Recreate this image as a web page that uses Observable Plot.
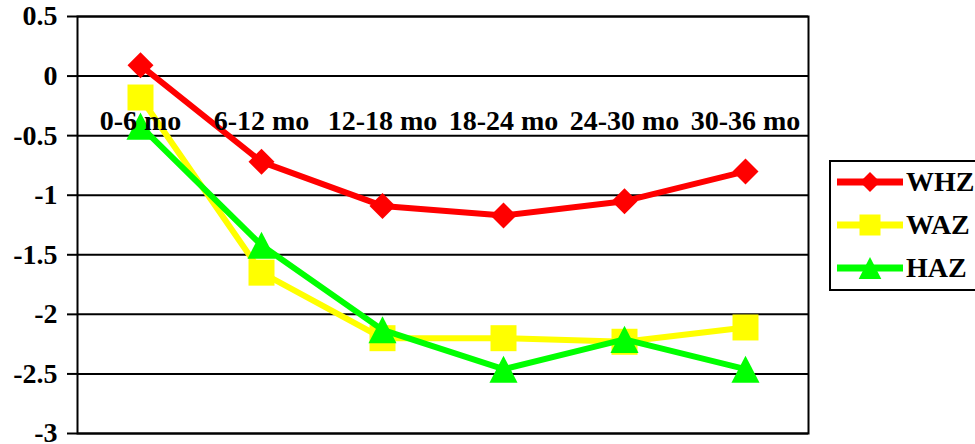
<!DOCTYPE html>
<html>
<head>
<meta charset="utf-8">
<script src="https://cdn.jsdelivr.net/npm/d3@7"></script>
<script src="https://cdn.jsdelivr.net/npm/@observablehq/plot@0.6"></script>
<style>
  html, body { margin: 0; padding: 0; background: white; overflow: hidden; }
  #wrap { position: relative; width: 975px; height: 444px; overflow: hidden; }
  #legend { position: absolute; left: 829px; top: 160px; width: 170px; height: 127px;
            border: 2px solid black; background: white; box-sizing: content-box; }
  .lg-row { position: absolute; left: 0; height: 40px; display: flex; align-items: center; }
  .lg-row span { font-family: "Liberation Serif", "Times New Roman", serif; font-weight: bold;
                 font-size: 28px; color: black; margin-left: 0px; }
</style>
</head>
<body>
<div id="wrap"><div id="chart"></div><div id="legend"></div></div>
<script>
const categories = ["0-6 mo", "6-12 mo", "12-18 mo", "18-24 mo", "24-30 mo", "30-36 mo"];
const seriesNames = ["WHZ", "WAZ", "HAZ"];
const WHZ = [0.09, -0.72, -1.09, -1.17, -1.05, -0.80];
const WAZ = [-0.18, -1.65, -2.20, -2.20, -2.23, -2.11];
const HAZ = [-0.42, -1.42, -2.13, -2.46, -2.21, -2.46];
const yTicks = [0.5, 0, -0.5, -1, -1.5, -2, -2.5, -3];
const colors = {WHZ: "#FF0000", WAZ: "#FFFF00", HAZ: "#00FF00"};
const categoryAxisCrossing = 0;

const diamond = {draw(ctx, size) { const s = Math.sqrt(size / Math.PI);
  ctx.moveTo(0, -s); ctx.lineTo(s, 0); ctx.lineTo(0, s); ctx.lineTo(-s, 0); ctx.closePath(); }};
const square = {draw(ctx, size) { const s = Math.sqrt(size / Math.PI);
  ctx.moveTo(-s, -s); ctx.lineTo(s, -s); ctx.lineTo(s, s); ctx.lineTo(-s, s); ctx.closePath(); }};
const triangle = {draw(ctx, size) { const s = Math.sqrt(size / Math.PI);
  ctx.moveTo(0, -1.04 * s); ctx.lineTo(1.08 * s, 1.04 * s); ctx.lineTo(-1.08 * s, 1.04 * s); ctx.closePath(); }};
const symbols = {WHZ: diamond, WAZ: square, HAZ: triangle};

const valuesBySeries = {WHZ, WAZ, HAZ};
const rows = seriesNames.flatMap(s => categories.map((c, i) => ({series: s, cat: c, value: valuesBySeries[s][i]})));

const font = "'Liberation Serif', 'Times New Roman', serif";
const marks = [
  Plot.ruleY(yTicks, {stroke: "black", strokeWidth: 2}),
  Plot.frame({stroke: "black", strokeWidth: 2}),
  Plot.axisY({ticks: yTicks, tickSize: 10, tickPadding: 10, tickFormat: d => String(d), label: null,
              fontSize: 28, fontWeight: "bold", fontFamily: font, stroke: "black", strokeWidth: 2})
];
for (const s of seriesNames) {
  const data = rows.filter(r => r.series === s);
  marks.push(Plot.line(data, {x: "cat", y: "value", stroke: colors[s], strokeWidth: 6, strokeLinejoin: "round"}));
  marks.push(Plot.dot(data, {x: "cat", y: "value", symbol: symbols[s], r: 13, fill: colors[s], stroke: "none"}));
}
marks.push(Plot.text(categories, {x: d => d, y: () => categoryAxisCrossing, dy: 45, text: d => d,
  fontSize: 28, fontWeight: "bold", fontFamily: font, fill: "black"}));

const chart = Plot.plot({
  width: 975, height: 444,
  marginLeft: 77, marginRight: 167, marginTop: 16, marginBottom: 11,
  x: {type: "point", domain: categories, padding: 0.5, axis: null},
  y: {domain: [-3, 0.5], axis: null},
  style: {fontFamily: font, background: "white", color: "black", overflow: "visible"},
  marks
});
document.getElementById("chart").appendChild(chart);

// Legend
const legend = document.getElementById("legend");
const legendSymbolR = {WHZ: 10, WAZ: 10.5, HAZ: 10.5};
seriesNames.forEach((s, i) => {
  const row = document.createElement("div");
  row.className = "lg-row";
  row.style.top = (i * 43) + "px";
  const svg = d3.create("svg").attr("width", 75).attr("height", 40);
  svg.append("line").attr("x1", 6).attr("x2", 72).attr("y1", 20).attr("y2", 20)
     .attr("stroke", colors[s]).attr("stroke-width", 7);
  const r = legendSymbolR[s];
  svg.append("path").attr("transform", "translate(39,20)")
     .attr("d", d3.symbol(symbols[s], r * r * Math.PI)()).attr("fill", colors[s]);
  row.appendChild(svg.node());
  const t = document.createElement("span");
  t.textContent = s;
  row.appendChild(t);
  legend.appendChild(row);
});
</script>
</body>
</html>
